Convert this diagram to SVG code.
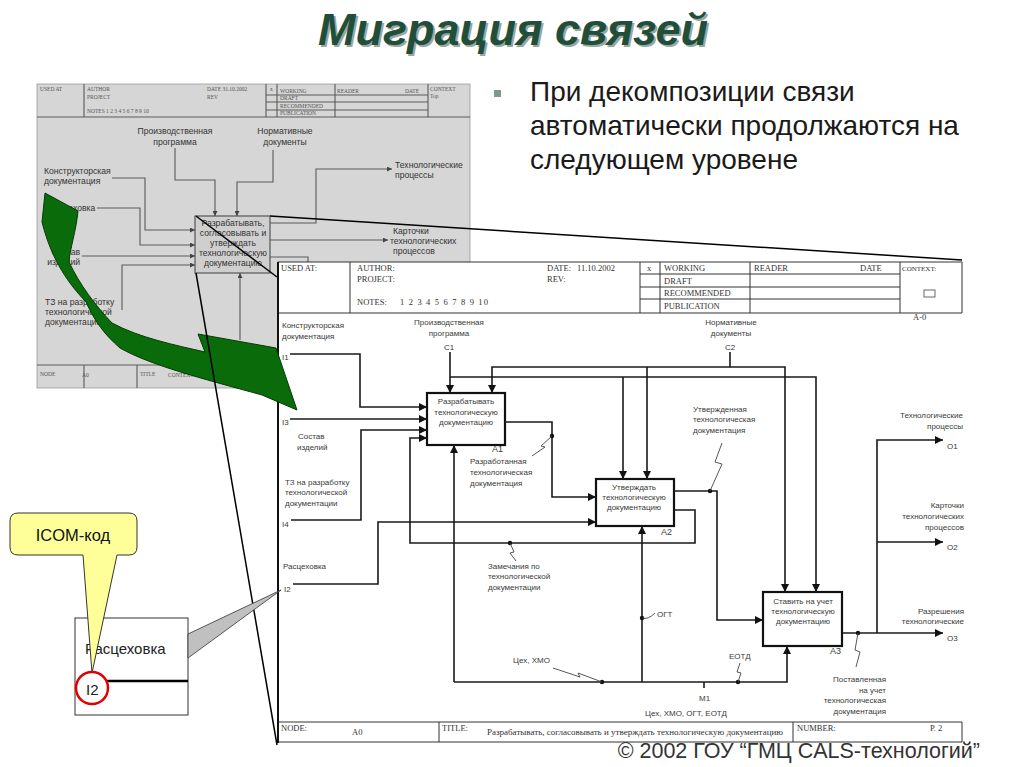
<svg xmlns="http://www.w3.org/2000/svg" width="1024" height="767" viewBox="0 0 1024 767">
<defs>
<style>
.t-title{font-family:"Liberation Sans",Arial,sans-serif;font-weight:bold;font-style:italic;font-size:45px;fill:#1f4e3b}
.t-bul{font-family:"Liberation Sans",Arial,sans-serif;font-size:28px;fill:#1a1a1a}
.hdr{font-family:"Liberation Serif","Times New Roman",serif;font-size:8.5px;fill:#333}
.lbl{font-family:"Liberation Sans",Arial,sans-serif;font-size:8px;fill:#3a3a3a}
.nd{font-family:"Liberation Sans",Arial,sans-serif;font-size:8px;fill:#3a3a3a;text-anchor:middle}
.rt{text-anchor:end}
.box{fill:#fff;stroke:#111;stroke-width:2.2}
.ln{fill:none;stroke:#1a1a1a;stroke-width:1.6}
.arr{fill:none;stroke:#1a1a1a;stroke-width:1.6;marker-end:url(#ah)}
.sq{fill:none;stroke:#444;stroke-width:0.9}
.fr{fill:none;stroke:#333;stroke-width:1}
.g-ln{fill:none;stroke:#5a5a5a;stroke-width:1.1}
.g-arr{fill:none;stroke:#5a5a5a;stroke-width:1.1;marker-end:url(#gah)}
.g-t{font-family:"Liberation Sans",Arial,sans-serif;font-size:8.6px;fill:#333}
.g-h{font-family:"Liberation Serif","Times New Roman",serif;font-size:5.5px;fill:#555}
.zl{fill:none;stroke:#000;stroke-width:1.5}
</style>
<marker id="ah" viewBox="0 0 10 10" refX="10" refY="5" markerWidth="8" markerHeight="8" markerUnits="userSpaceOnUse" orient="auto"><path d="M0,0 L10,5 L0,10 Z" fill="#111"/></marker>
<marker id="gah" viewBox="0 0 10 10" refX="10" refY="5" markerWidth="5" markerHeight="5" markerUnits="userSpaceOnUse" orient="auto"><path d="M0,0 L10,5 L0,10 Z" fill="#444"/></marker>
</defs>

<rect width="1024" height="767" fill="#fff"/>

<g id="title">
<text x="320" y="47" class="t-title" style="fill:#9aa79f">Миграция связей</text>
<text x="318" y="45" class="t-title">Миграция связей</text>
</g>
<g id="bullet">
<rect x="494" y="90" width="7" height="7" fill="#7f9a8a"/>
<text x="530" y="101" class="t-bul">При декомпозиции связи</text>
<text x="530" y="135" class="t-bul">автоматически продолжаются на</text>
<text x="530" y="169" class="t-bul">следующем уровене</text>
</g>

<g id="parent-diagram">
<rect x="37" y="84" width="433" height="304" fill="#d6d6d6" stroke="#999" stroke-width="0.8"/>
<path class="g-ln" d="M37,117 H470 M84,84 V117 M266,84 V117 M277,84 V117 M335,84 V117 M428,84 V117 M266,95 H428 M266,102 H428 M266,110 H428 M37,365 H277 M84,365 V388 M137,365 V388" stroke-width="0.8"/>
<text x="40" y="91" class="g-h">USED AT</text>
<text x="87" y="91" class="g-h">AUTHOR</text>
<text x="87" y="99" class="g-h">PROJECT</text>
<text x="87" y="113" class="g-h">NOTES  1 2 3 4 5 6 7 8 9 10</text>
<text x="207" y="91" class="g-h">DATE  31.10.2002</text>
<text x="207" y="99" class="g-h">REV</text>
<text x="270" y="91" class="g-h">x</text>
<text x="280" y="93" class="g-h">WORKING</text>
<text x="280" y="100" class="g-h">DRAFT</text>
<text x="280" y="108" class="g-h">RECOMMENDED</text>
<text x="280" y="115" class="g-h">PUBLICATION</text>
<text x="337" y="93" class="g-h">READER</text>
<text x="405" y="93" class="g-h">DATE</text>
<text x="430" y="91" class="g-h">CONTEXT</text>
<text x="430" y="98" class="g-h">Top</text>
<text x="40" y="376" class="g-h">NODE</text>
<text x="82" y="377" class="g-h">A0</text>
<text x="140" y="376" class="g-h">TITLE</text>
<text x="168" y="377" class="g-h">CONTEXT</text>

<g id="parent-node">
<rect x="195" y="216" width="75" height="57" fill="#cfcfcf" stroke="#555" stroke-width="1.2"/>
<text x="233" y="226" class="g-t" text-anchor="middle">Разрабатывать,</text>
<text x="233" y="236" class="g-t" text-anchor="middle">согласовывать и</text>
<text x="233" y="246" class="g-t" text-anchor="middle">утверждать</text>
<text x="233" y="256" class="g-t" text-anchor="middle">технологическую</text>
<text x="233" y="266" class="g-t" text-anchor="middle">документацию</text>
</g>
<g id="parent-connectors">
<path class="g-arr" d="M175,148 V180 H215 V216"/>
<path class="g-arr" d="M273,150 V182 H237 V216"/>
<path class="g-arr" d="M270,223 H316 V169 H392"/>
<path class="g-arr" d="M270,240 H388"/>
<path class="g-ln" d="M270,257 H308 V265"/>
<path class="g-arr" d="M112,178 H145 V230 H195"/>
<path class="g-arr" d="M97,208 H140 V245 H195"/>
<path class="g-arr" d="M82,256 H195"/>
<path class="g-arr" d="M122,310 V265 H195"/>
<path class="g-arr" d="M240,340 V273"/>
</g>
<text x="175" y="134" class="g-t" text-anchor="middle">Производственная</text>
<text x="175" y="145" class="g-t" text-anchor="middle">программа</text>
<text x="285" y="134" class="g-t" text-anchor="middle">Нормативные</text>
<text x="285" y="145" class="g-t" text-anchor="middle">документы</text>
<text x="395" y="168" class="g-t">Технологические</text>
<text x="395" y="178" class="g-t">процессы</text>
<text x="393" y="234" class="g-t">Карточки</text>
<text x="390" y="244" class="g-t">технологических</text>
<text x="393" y="254" class="g-t">процессов</text>
<text x="44" y="174" class="g-t">Конструкторская</text>
<text x="44" y="184" class="g-t">документация</text>
<text x="49" y="211" class="g-t">Расцеховка</text>
<text x="80" y="255" class="g-t" text-anchor="end">Состав</text>
<text x="80" y="265" class="g-t" text-anchor="end">изделий</text>
<text x="45" y="305" class="g-t">ТЗ на разработку</text>
<text x="45" y="315" class="g-t">технологической</text>
<text x="45" y="325" class="g-t">документации</text>
<text x="212" y="352" class="g-t">Цех</text>
</g>

<g id="main-frame">
<rect x="278" y="262" width="684" height="481" fill="#fff"/>
<path class="fr" d="M278,262 H962 V313 M278,313 H962 M350,262 V313 M640,262 V313 M660,262 V313 M750,262 V313 M900,262 V313 M640,274 H900 M640,287 H900 M640,299 H900"/>
<path class="fr" d="M278,722 H962 V742 H278 M439,722 V742 M793,722 V742"/>
<path d="M278,262 V743" stroke="#111" stroke-width="2" fill="none"/>
<text x="281" y="271" class="hdr">USED AT:</text>
<text x="357" y="271" class="hdr">AUTHOR:</text>
<text x="357" y="282" class="hdr">PROJECT:</text>
<text x="357" y="305" class="hdr">NOTES:</text>
<text x="400" y="305" class="hdr" textLength="88" lengthAdjust="spacing">1 2 3 4 5 6 7 8 9 10</text>
<text x="547" y="271" class="hdr">DATE:</text>
<text x="577" y="271" class="hdr">11.10.2002</text>
<text x="547" y="282" class="hdr">REV:</text>
<text x="647" y="271" class="hdr">x</text>
<text x="664" y="271" class="hdr">WORKING</text>
<text x="664" y="284" class="hdr">DRAFT</text>
<text x="664" y="296" class="hdr">RECOMMENDED</text>
<text x="664" y="309" class="hdr">PUBLICATION</text>
<text x="754" y="271" class="hdr">READER</text>
<text x="860" y="271" class="hdr">DATE</text>
<text x="902" y="271" class="hdr" style="font-size:7px">CONTEXT:</text>
<rect x="924" y="290" width="11" height="7" fill="none" stroke="#444" stroke-width="0.8"/>
<text x="913" y="320" class="hdr">A-0</text>
<text x="281" y="731" class="hdr">NODE:</text>
<text x="352" y="735" class="hdr">A0</text>
<text x="442" y="731" class="hdr">TITLE:</text>
<text x="487" y="735" class="hdr" textLength="296" lengthAdjust="spacingAndGlyphs">Разрабатывать, согласовывать и утверждать технологическую документацию</text>
<text x="797" y="731" class="hdr">NUMBER:</text>
<text x="930" y="731" class="hdr">P. 2</text>
</g>

<g id="A1">
<rect x="427" y="393" width="78" height="52" class="box"/>
<text x="466" y="404" class="nd">Разрабатывать</text>
<text x="466" y="415" class="nd">технологическую</text>
<text x="466" y="425" class="nd">документацию</text>
<text x="492" y="452" class="lbl" style="font-size:9px">A1</text>
</g>
<g id="A2">
<rect x="596" y="479" width="78" height="47" class="box"/>
<text x="634" y="490" class="nd">Утверждать</text>
<text x="634" y="500" class="nd">технологическую</text>
<text x="634" y="510" class="nd">документацию</text>
<text x="661" y="535" class="lbl" style="font-size:9px">A2</text>
</g>
<g id="A3">
<rect x="763" y="592" width="79" height="54" class="box"/>
<text x="803" y="604" class="nd">Ставить на учет</text>
<text x="803" y="614" class="nd">технологическую</text>
<text x="803" y="624" class="nd">документацию</text>
<text x="830" y="654" class="lbl" style="font-size:9px">A3</text>
</g>

<g id="connectors">
<path class="arr" d="M290,354 H360 V407 H427"/>
<path class="arr" d="M290,419 H427"/>
<path class="arr" d="M291,520 H361 V430 H427"/>
<path class="arr" d="M674,510 H695 V543 H410 V438 H427"/>
<path class="arr" d="M293,584 H378 V522 H596"/>
<path class="arr" d="M505,422 H552 V497 H596"/>
<path class="arr" d="M674,491 H717 V620 H763"/>
<path class="arr" d="M450,352 V393"/>
<path class="arr" d="M450,377 H816 V592"/>
<path class="arr" d="M623,377 V479"/>
<path class="ln" d="M730,352 V367"/>
<path class="arr" d="M730,367 H492 V393"/>
<path class="arr" d="M730,367 H785 V592"/>
<path class="arr" d="M647,367 V479"/>
<path class="arr" d="M454,682 V445"/>
<path class="arr" d="M454,682 H787 V646"/>
<path class="arr" d="M642,682 V526"/>
<path class="ln" d="M704,682 V688"/>
<path class="arr" d="M842,633 H943"/>
<path class="arr" d="M877,633 V440 H943"/>
<path class="arr" d="M877,542 H943"/>
<g fill="#111">
<circle cx="552" cy="436" r="2.2"/>
<circle cx="710" cy="491" r="2.2"/>
<circle cx="510" cy="543" r="2.2"/>
<circle cx="642" cy="618" r="2.2"/>
<circle cx="602" cy="682" r="2.2"/>
<circle cx="738" cy="682" r="2.2"/>
<circle cx="858" cy="633" r="2.2"/>
</g>
<path class="sq" d="M552,436 L541,446 L545,447 L532,456"/>
<path class="sq" d="M710,491 L722,464 L715,462 L722,443"/>
<path class="sq" d="M510,543 L514,552 L510,553 L516,561"/>
<path class="sq" d="M642,618 Q648,620 655,613"/>
<path class="sq" d="M553,668 L580,677 L578,673 L602,682"/>
<path class="sq" d="M740,663 L737,672 L741,673 L738,682"/>
<path class="sq" d="M858,633 L855,650 L860,652 L856,667"/>
</g>

<g id="labels">
<text x="449" y="325" class="nd">Производственная</text>
<text x="449" y="336" class="nd">программа</text>
<text x="449" y="350" class="nd">C1</text>
<text x="731" y="325" class="nd">Нормативные</text>
<text x="731" y="336" class="nd">документы</text>
<text x="730" y="350" class="nd">C2</text>
<text x="282" y="328" class="lbl">Конструкторская</text>
<text x="282" y="339" class="lbl">документация</text>
<text x="282" y="360" class="lbl">I1</text>
<text x="282" y="425" class="lbl">I3</text>
<text x="298" y="439" class="lbl">Состав</text>
<text x="297" y="450" class="lbl">изделий</text>
<text x="285" y="485" class="lbl">ТЗ на разработку</text>
<text x="285" y="495" class="lbl">технологической</text>
<text x="285" y="506" class="lbl">документации</text>
<text x="282" y="527" class="lbl">I4</text>
<text x="283" y="569" class="lbl">Расцеховка</text>
<text x="284" y="592" class="lbl">I2</text>
<text x="470" y="464" class="lbl">Разработанная</text>
<text x="470" y="475" class="lbl">технологическая</text>
<text x="470" y="486" class="lbl">документация</text>
<text x="693" y="412" class="lbl">Утвержденная</text>
<text x="693" y="422" class="lbl">технологическая</text>
<text x="693" y="433" class="lbl">документация</text>
<text x="488" y="569" class="lbl">Замечания по</text>
<text x="488" y="579" class="lbl">технологической</text>
<text x="488" y="590" class="lbl">документации</text>
<text x="513" y="663" class="lbl">Цех, ХМО</text>
<text x="657" y="617" class="lbl">ОГТ</text>
<text x="729" y="659" class="lbl">ЕОТД</text>
<text x="699" y="701" class="lbl">M1</text>
<text x="645" y="716" class="lbl">Цех, ХМО, ОГТ, ЕОТД</text>
<text x="963" y="418" class="lbl rt">Технологические</text>
<text x="963" y="429" class="lbl rt">процессы</text>
<text x="964" y="508" class="lbl rt">Карточки</text>
<text x="964" y="519" class="lbl rt">технологических</text>
<text x="964" y="530" class="lbl rt">процессов</text>
<text x="964" y="614" class="lbl rt">Разрешения</text>
<text x="964" y="624" class="lbl rt">технологические</text>
<text x="947" y="449" class="lbl">O1</text>
<text x="947" y="550" class="lbl">O2</text>
<text x="947" y="641" class="lbl">O3</text>
<text x="886" y="682" class="lbl rt">Поставленная</text>
<text x="886" y="693" class="lbl rt">на учет</text>
<text x="886" y="703" class="lbl rt">технологическая</text>
<text x="886" y="714" class="lbl rt">документация</text>
</g>

<path id="green-arrow" d="M45,193 L78,211 C76,232 70,248 69,262 C80,285 95,305 112,323 C140,338 175,345 205,352 L198,334 L276,348 L297,410 L262,395 C200,378 150,365 120,348 C105,335 95,322 86,302 C70,285 52,262 42,222 Z" fill="#0a6b0a" stroke="#063a06" stroke-width="1"/>

<g id="zoom-lines">
<path class="zl" d="M270,216 L962,260"/>
<path class="zl" d="M196,216 L277,277"/>
<path class="zl" d="M196,273 L277,745"/>
</g>

<g id="icom-example">
<rect x="75" y="618" width="113" height="97" fill="#fff" stroke="#333" stroke-width="1"/>
<text x="85" y="654" style="font-family:'Liberation Sans',Arial,sans-serif;font-size:15px;fill:#222">Расцеховка</text>
<path d="M107,681 H188" stroke="#000" stroke-width="2.5"/>
<text x="86" y="695" style="font-family:'Liberation Sans',Arial,sans-serif;font-size:15px;fill:#222">I2</text>
<polygon points="188,634 188,658 281,590" fill="#c0c0c0" stroke="#333" stroke-width="0.8"/>
</g>
<g id="icom-callout">
<path d="M18,513 H129 Q137,513 137,521 V547 Q137,555 129,555 H117 L92,673 L83,555 H18 Q10,555 10,547 V521 Q10,513 18,513 Z" fill="#ffff99" stroke="#333" stroke-width="1"/>
<text x="73" y="541" text-anchor="middle" style="font-family:'Liberation Sans',Arial,sans-serif;font-size:16.5px;fill:#111">ICOM-код</text>
<circle cx="92" cy="688" r="16" fill="none" stroke="#e00000" stroke-width="2.5"/>
</g>

<text x="980" y="758" text-anchor="end" style="font-family:'Liberation Sans',Arial,sans-serif;font-size:21.5px;fill:#333">© 2002 ГОУ “ГМЦ CALS-технологий”</text>
</svg>
